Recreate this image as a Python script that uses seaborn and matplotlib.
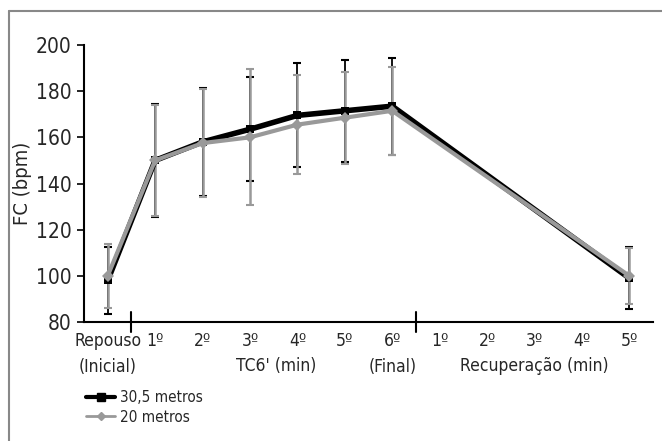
import matplotlib
matplotlib.use('Agg')
import matplotlib.pyplot as plt
import matplotlib.transforms as mtransforms
from matplotlib.lines import Line2D
import seaborn as sns
import pandas as pd

sns.set_theme(style='white')
plt.rcParams['font.family'] = ['DejaVu Sans']
plt.rcParams['font.stretch'] = 'condensed'

# all x slots of the chart (rest, 6 min test, 5 min recovery)
slots = ['Rep', 'T1', 'T2', 'T3', 'T4', 'T5', 'T6', 'R1', 'R2', 'R3', 'R4', 'R5']
tick_labels = ['Repouso\n(Inicial)', '1º', '2º', '3º', '4º', '5º', '6º\n(Final)',
               '1º', '2º', '3º', '4º', '5º']
measured = ['Rep', 'T1', 'T2', 'T3', 'T4', 'T5', 'T6', 'R5']

fc_30 = [98, 150, 158, 163.5, 169.5, 171.5, 173.5, 99]
sd_30 = [14.5, 24.5, 23.5, 22.5, 22.5, 22, 21, 13.5]
fc_20 = [100, 150, 157.5, 160, 165.5, 168.5, 171.5, 100]
sd_20 = [14, 24, 23.5, 29.5, 21.5, 20, 19, 12]

pos = [slots.index(m) for m in measured]
df = pd.DataFrame({'pos': pos * 2,
                   'fc': fc_30 + fc_20,
                   'sd': sd_30 + sd_20,
                   'serie': ['30,5 metros'] * len(pos) + ['20 metros'] * len(pos)})

fig = plt.figure(figsize=(6.62, 4.41), dpi=100)
ax = fig.add_axes([84 / 662, 1 - 322 / 441, (653 - 84) / 662, (322 - 45) / 441])

styles = {'30,5 metros': dict(color='black', marker='s', lw=4.0, ms=6, ecol='black', elw=1.3),
          '20 metros': dict(color='#999999', marker='D', lw=3.0, ms=6, ecol='#999999', elw=1.8)}

for serie, d in df.groupby('serie', sort=False):
    st = styles[serie]
    ax.errorbar(d['pos'], d['fc'], yerr=d['sd'], fmt='none', ecolor=st['ecol'],
                elinewidth=st['elw'], capsize=3, capthick=1.5, zorder=2)
    sns.lineplot(data=d, x='pos', y='fc', ax=ax, color=st['color'], marker=st['marker'],
                 lw=st['lw'], markersize=st['ms'], markeredgewidth=0, label=serie, zorder=3)

ax.set_xlim(-0.5, len(slots) - 0.5)
ax.set_ylim(80, 200)
ax.set_yticks(range(80, 201, 20))
ax.set_xticks(range(len(slots)))
ax.set_xticklabels(tick_labels, fontsize=12.5, linespacing=1.6, va='top')
ax.set_xticks([b + 0.5 for b in range(len(slots))], minor=True)
ax.tick_params(axis='x', which='major', length=0, pad=7)
ax.tick_params(axis='x', which='minor', length=4, width=1.2, direction='out', color='black')
ax.tick_params(axis='y', length=5, width=1.2, direction='out', color='black', labelsize=15, pad=4)
ax.tick_params(left=True, bottom=True)
sns.despine(ax=ax)
for s in ['left', 'bottom']:
    ax.spines[s].set_color('black')
    ax.spines[s].set_linewidth(1.5)

trans = mtransforms.blended_transform_factory(ax.transData, ax.transAxes)
for b in [0.5, 6.5]:
    ax.plot([b, b], [-0.035, 0.035], color='black', lw=1.5, transform=trans, clip_on=False)

ax.text(3.55, -0.128, "TC6' (min)", transform=trans, ha='center', va='top', fontsize=12.5)
ax.text(9.0, -0.128, 'Recuperação (min)', transform=trans, ha='center', va='top', fontsize=12.5)

ax.set_xlabel('')
ax.set_ylabel('FC (bpm)', fontsize=14.5, labelpad=3)

ax.get_legend().remove()
handles = [Line2D([], [], color='black', marker='s', lw=3, ms=6),
           Line2D([], [], color='#999999', marker='D', lw=2, ms=4)]
fig.legend(handles, ['30,5 metros', '20 metros'], loc='upper left',
           bbox_to_anchor=(80 / 662, 1 - 384 / 441), frameon=False, fontsize=11,
           handlelength=1.9, handletextpad=0.35, labelspacing=0.3, borderaxespad=0)

# outer frame of the original figure
fig.add_artist(Line2D([9 / 662, 1.01], [1 - 11 / 441, 1 - 11 / 441], color='#888888', lw=1.5,
                      transform=fig.transFigure))
fig.add_artist(Line2D([9 / 662, 9 / 662], [1 - 11 / 441, -0.01], color='#888888', lw=1.5,
                      transform=fig.transFigure))

fig.savefig('out.png', dpi=100)
